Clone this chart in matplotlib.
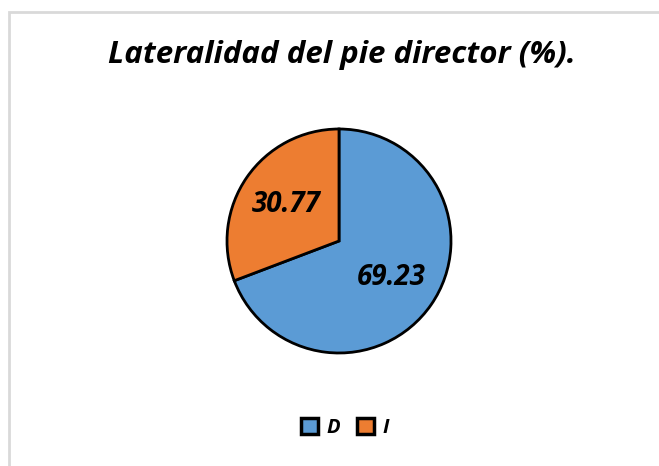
import matplotlib
matplotlib.use("Agg")
import matplotlib.pyplot as plt
from matplotlib.patches import Patch, Rectangle

labels = ["D", "I"]
values = [69.23, 30.77]
colors = ["#5B9BD5", "#ED7D31"]
title = "Lateralidad del pie director (%)."

W, H = 659, 466
fig = plt.figure(figsize=(W / 100, H / 100), dpi=100)
fig.patch.set_facecolor("white")

# chart frame (only top and left edge visible in the screenshot)
fig.patches.append(Rectangle((9 / W, -0.1), 1.2, (H - 12) / H + 0.1,
                             transform=fig.transFigure, fill=False,
                             edgecolor="#D9D9D9", linewidth=2))

cx, cy, r = 339, 241, 112
lim = 1.1
side = 2 * r * lim
ax = fig.add_axes([(cx - side / 2) / W, (H - cy - side / 2) / H, side / W, side / H])
wedges, texts, autotexts = ax.pie(
    values, colors=colors, startangle=90, counterclock=False,
    autopct=lambda p: f"{p:.2f}", pctdistance=0.57,
    wedgeprops=dict(edgecolor="black", linewidth=2),
    textprops=dict(fontsize=20, fontweight="bold", style="italic",
                   family="Open Sans", color="black"),
)
ax.set_xlim(-lim, lim)
ax.set_ylim(-lim, lim)
ax.set_aspect("auto")

fig.text(342 / W, 1 - 55 / H, title, ha="center", va="center",
         fontsize=22.5, fontweight="bold", style="italic", family="Open Sans")

handles = [Patch(facecolor=c, edgecolor="black", linewidth=2.5) for c in colors]
leg = fig.legend(handles, labels, loc="center", bbox_to_anchor=(345 / W, 1 - 428 / H),
                 ncol=2, frameon=False, handlelength=0.85, handleheight=0.85,
                 handletextpad=0.4, columnspacing=0.85,
                 prop=dict(family="Open Sans", weight="bold", style="italic", size=14.5))

fig.savefig("out.png", dpi=100)
